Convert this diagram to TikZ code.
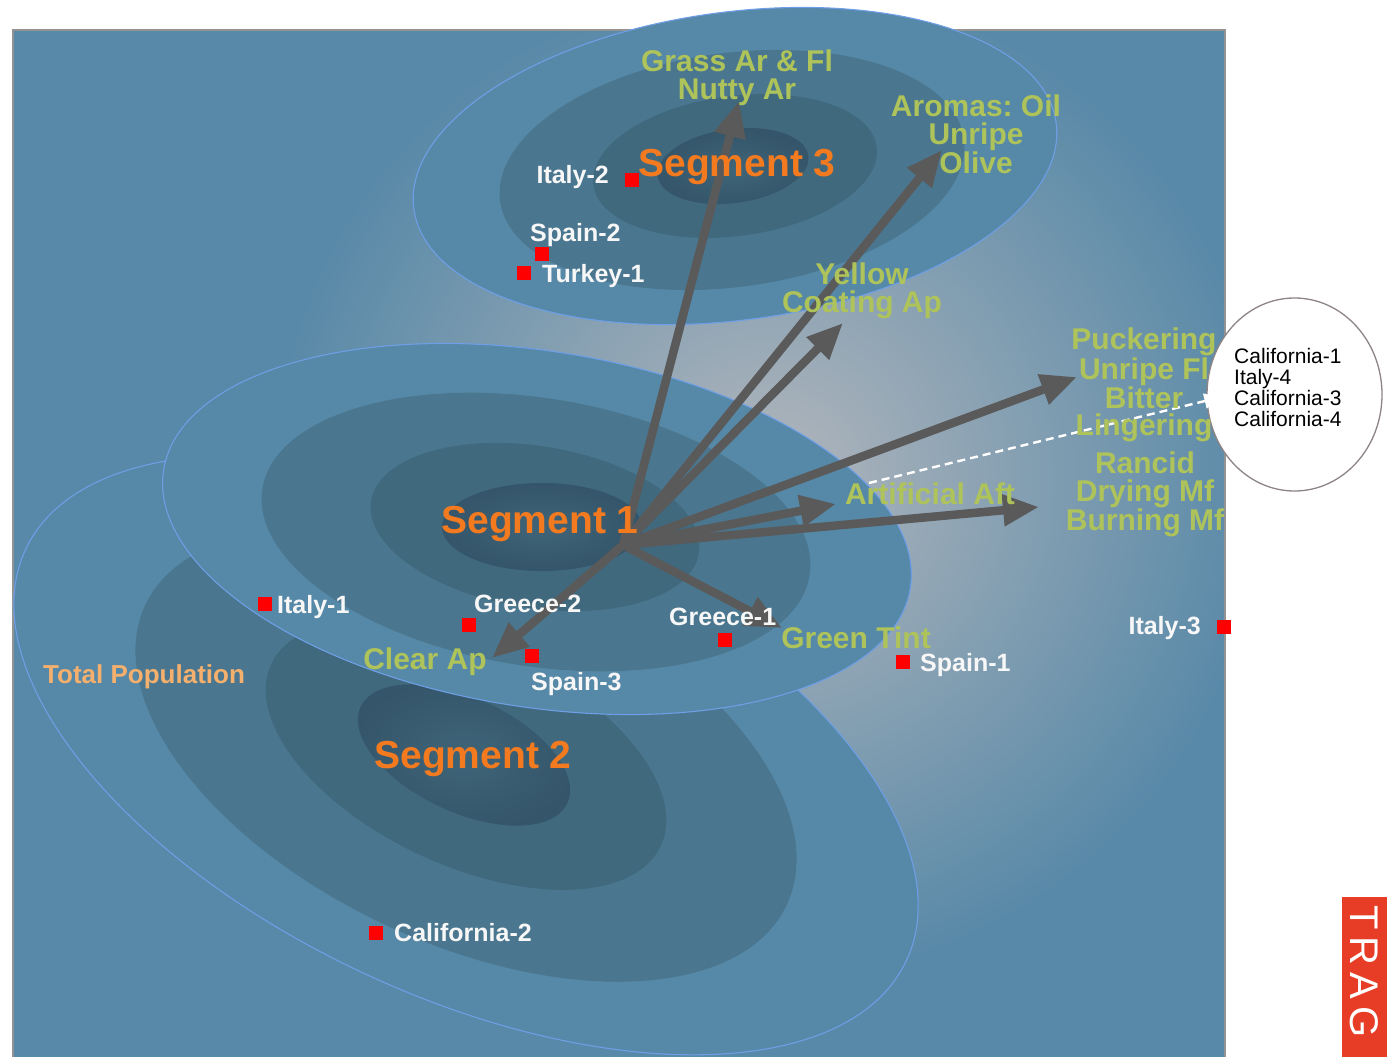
\documentclass[tikz,border=0pt]{standalone}
\usepackage{fontspec}
\setmainfont{Liberation Sans}
\usepackage{xcolor}
\usepackage{tikz}
\usetikzlibrary{arrows.meta}
\usetikzlibrary{shapes.geometric}
\frenchspacing

\definecolor{bgblue}{HTML}{5889A8}
\definecolor{bglight}{RGB}{178,182,188}
\definecolor{ringA}{HTML}{5688A7}
\definecolor{ringB}{HTML}{4A778F}
\definecolor{ringC}{HTML}{41697E}
\definecolor{ringD}{HTML}{34556A}
\definecolor{ringDin}{HTML}{3F6478}
\definecolor{rimblue}{HTML}{6E9FE6}
\definecolor{segorange}{HTML}{F47A20}
\definecolor{attrgreen}{HTML}{AEC35A}
\definecolor{popbeige}{HTML}{F5B06E}
\definecolor{arrowgray}{HTML}{5A5A5A}
\definecolor{tagred}{HTML}{E73C25}
\definecolor{bubblerim}{HTML}{8E8484}

\tikzset{
  attr/.style={text=attrgreen, font=\fontsize{30}{27.5}\selectfont\bfseries,
    align=center, inner sep=0pt, anchor=north},
  seglabel/.style={text=segorange, font=\fontsize{39}{40}\selectfont\bfseries,
    inner sep=0pt, anchor=north},
  cultivar/.style={text=white!94!gray, font=\fontsize{25}{27}\selectfont\bfseries,
    inner sep=0pt},
  mkr/.style={fill=red, minimum size=14pt, inner sep=0pt},
  loading/.style={draw=arrowgray, line width=8.5pt,
    -{Triangle[length=36pt, width=30pt]}},
  rim/.style={draw=rimblue, line width=1.1pt},
}

\begin{document}
\begin{tikzpicture}[x=1pt, y=-1pt]
\useasboundingbox (0,0) rectangle (1387,1057);

% background panel
\fill[bgblue] (13,30) rectangle (1225,1057);
\begin{scope}
  \clip (13,30) rectangle (1225,1057);
  \shade[inner color=bglight, outer color=bgblue] (770,480) circle (500);
\end{scope}
\draw[gray!85, line width=1.5pt] (13,1057) -- (13,30) -- (1225,30) -- (1225,1057);

% segment 2 / total population
\filldraw[ringA, rim, rotate around={-25:(466,755)}] (466,755) ellipse (486 and 241);
\fill[ringB, rotate around={-25:(466,755)}] (466,755) ellipse (354 and 188);
\fill[ringC, rotate around={-25:(466,755)}] (466,755) ellipse (215 and 110);
\shade[inner color=ringDin, outer color=ringD, rotate around={-25:(464,755)}]
  (464,755) ellipse (114 and 57);

% segment 1
\filldraw[ringA, rim, rotate around={-9:(537,529)}] (537,529) ellipse (378 and 178);
\fill[ringB, rotate around={-9:(536,532)}] (536,532) ellipse (277 and 134);
\fill[ringC, rotate around={-9:(535,527)}] (535,527) ellipse (166 and 81);
\shade[inner color=ringDin, outer color=ringD] (542,527) ellipse (100 and 44);

% segment 3
\filldraw[ringA, rim, rotate around={7.6:(735,166)}] (735,166) ellipse (324 and 154);
\fill[ringB, rotate around={7.6:(732,170)}] (732,170) ellipse (234 and 117);
\fill[ringC, rotate around={7.6:(735,166)}] (735,166) ellipse (143 and 70);
\shade[inner color=ringDin, outer color=ringD, rotate around={7.6:(733,166)}]
  (733,166) ellipse (76 and 37);

% cluster bubble
\node[ellipse, draw=bubblerim, fill=white, line width=1.3pt, inner sep=0pt,
  minimum width=175pt, minimum height=193pt] (bubble) at (1294.5,394.5) {};
\node[anchor=north west, align=left, inner sep=0pt,
  font=\fontsize{21}{20.7}\selectfont] (bubbletext) at (1234,348.5)
  {California-1\\Italy-4\\California-3\\California-4};

% attribute vectors
\coordinate (hub) at (623,545);
\path (739,101) coordinate (grassTip)
      (942,150) coordinate (aromaTip)
      (843,323) coordinate (coatTip)
      (1077,377) coordinate (puckerTip)
      (1039,507) coordinate (rancidTip)
      (836,504) coordinate (artifTip)
      (782,628) coordinate (greenTip)
      (492,658) coordinate (clearTip);
\foreach \tip in {grassTip,aromaTip,coatTip,puckerTip,rancidTip,artifTip,greenTip,clearTip}
  \draw[loading] (hub) -- (\tip);

\coordinate (dashfrom) at (869,483);
\draw[white, line width=2.4pt, dash pattern=on 8pt off 5pt,
  -{Triangle[length=17pt, width=15pt]}] (dashfrom) -- ([shift={(15,2.5)}]bubble.west);

% attribute labels
\node[attr] (grassLbl) at (737,50) {Grass Ar \& Fl\\Nutty Ar};
\node[attr] (aromaLbl) at (976,95) {Aromas: Oil\\Unripe\\Olive};
\node[attr] (coatLbl) at (862,263) {Yellow\\Coating Ap};
\node[attr] (puckerLbl) at (1144,328) {Puckering\\Unripe Fl\\Bitter\\Lingering};
\node[attr] (rancidLbl) at (1145,452) {Rancid\\Drying Mf\\Burning Mf};
\node[attr] (artifLbl) at (930,483) {Artificial Aft};
\node[attr] (greenLbl) at (856,627) {Green Tint};
\node[attr] (clearLbl) at (425,648) {Clear Ap};

% segment labels
\node[seglabel] (seg3) at (737,149) {Segment 3};
\node[seglabel] (seg1) at (540,506) {Segment 1};
\node[seglabel] (seg2) at (473,741) {Segment 2};
\node[anchor=base west, inner sep=0pt, text=popbeige,
  font=\fontsize{26}{28}\selectfont\bfseries] (totalpop) at (43,683) {Total Population};

% cultivar points
\node[mkr] (italy2) at (632,180) {};
\node[mkr] (spain2) at (542,253.5) {};
\node[mkr] (turkey1) at (523.5,272.5) {};
\node[mkr] (italy1) at (265,604) {};
\node[mkr] (greece2) at (468.5,625) {};
\node[mkr] (greece1) at (724.5,640) {};
\node[mkr] (spain3) at (531.5,655.5) {};
\node[mkr] (spain1) at (903,661.5) {};
\node[mkr] (italy3) at (1224,627) {};
\node[mkr] (california2) at (376,933) {};

\node[cultivar, anchor=base east] (italy2lbl) at (609,183) {Italy-2};
\node[cultivar, anchor=base west] (spain2lbl) at (530,241) {Spain-2};
\node[cultivar, anchor=base west] (turkey1lbl) at (542,282) {Turkey-1};
\node[cultivar, anchor=base west] (italy1lbl) at (277,613) {Italy-1};
\node[cultivar, anchor=base west] (greece2lbl) at (474,612) {Greece-2};
\node[cultivar, anchor=base west] (greece1lbl) at (669,625) {Greece-1};
\node[cultivar, anchor=base west] (spain3lbl) at (531,690) {Spain-3};
\node[cultivar, anchor=base west] (spain1lbl) at (920,671) {Spain-1};
\node[cultivar, anchor=base east] (italy3lbl) at (1201,634) {Italy-3};
\node[cultivar, anchor=base west] (california2lbl) at (394,941) {California-2};

% corner tag
\fill[tagred] (1342,897) rectangle (1387,1057);
\node[rotate=-90, anchor=base west, inner sep=0pt, text=white,
  font=\fontsize{40}{40}\selectfont] (tag) at (1350,905)
  {T\hspace{7pt}R\hspace{7pt}A\hspace{7pt}G};
\end{tikzpicture}
\end{document}
